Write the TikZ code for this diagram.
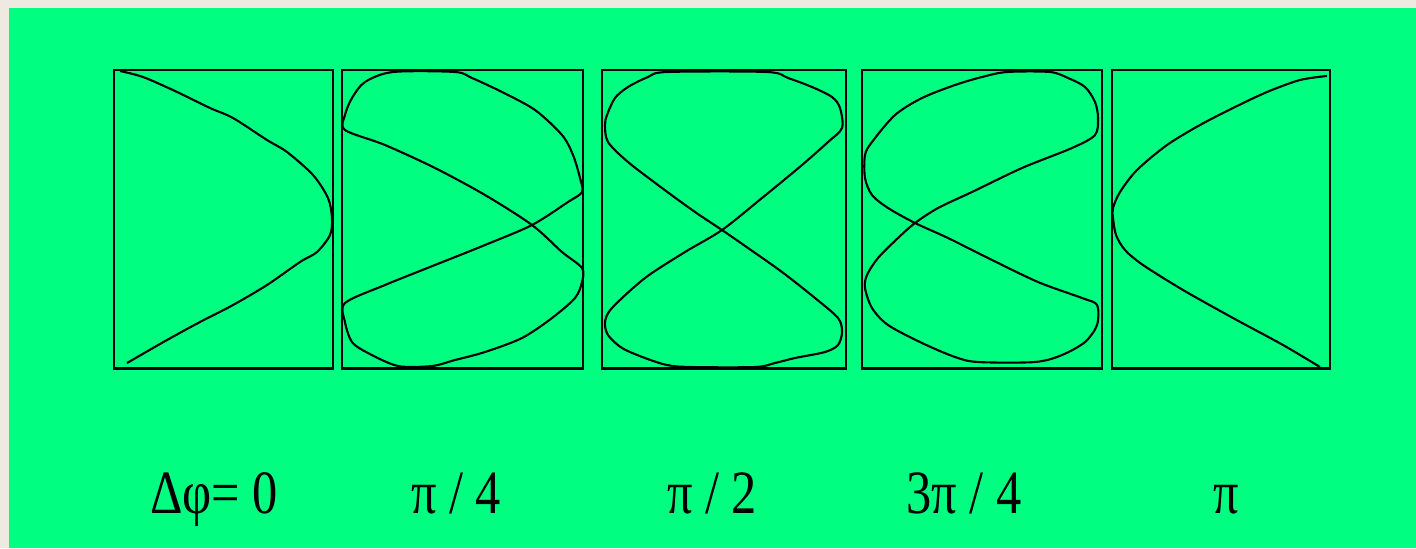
\documentclass[tikz,border=0pt]{standalone}
\usepackage{fontspec}
\newfontfamily\labelfont[FakeStretch=0.82]{Liberation Serif}
\definecolor{screen}{RGB}{0,255,128}
\definecolor{paper}{RGB}{238,234,225}
\tikzset{
  panel/.style={draw, line width=0.8pt, inner sep=0pt, minimum height=2.98cm},
  trace/.style={line width=0.6pt, line join=round},
  phase/.style={anchor=base, inner sep=0pt, font=\labelfont\fontsize{17.5}{20}\selectfont}
}
\begin{document}
\begin{tikzpicture}[x=0.01cm,y=-0.01cm]
\fill[paper] (0,0) rectangle (1416,548);
\fill[screen] (9,8) rectangle (1416,548);
\useasboundingbox (0,0) rectangle (1416,548);
% frames
\node[panel, minimum width=2.19cm] (p1) at (223.5,219) {};
\node[panel, minimum width=2.41cm] (p2) at (462.5,219) {};
\node[panel, minimum width=2.44cm] (p3) at (724,219) {};
\node[panel, minimum width=2.40cm] (p4) at (982,219) {};
\node[panel, minimum width=2.18cm] (p5) at (1221,219) {};
% figures
\draw[trace] plot[smooth] coordinates {(120,71) (143,77) (175,91) (210,108) (233,118) (267,140) (287,152) (313,175) (328,198) (332,218) (330,235) (317,252) (300,262) (267,285) (233,305) (200,322) (167,340) (127,363)};
\draw[trace] plot[smooth cycle] coordinates {(393,72) (455,72) (472,78) (502,92) (535,110) (562,135) (573,155) (580,178) (582,192) (568,202) (532,225) (485,245) (435,265) (385,285) (345,303) (345,322) (352,342) (368,353) (398,366) (432,366) (455,360) (485,352) (522,338) (552,318) (575,298) (582,282) (582,268) (562,252) (532,225) (485,195) (435,168) (385,145) (345,130) (345,115) (352,98) (365,82)};
\draw[trace] plot[smooth cycle] coordinates {(667,72) (767,72) (788,78) (812,87) (832,97) (840,108) (842,128) (828,142) (802,165) (762,198) (722,230) (685,252) (645,278) (612,308) (605,322) (608,335) (622,348) (645,358) (667,365) (690,367) (755,367) (775,363) (795,358) (825,352) (838,345) (842,332) (838,318) (815,298) (782,272) (748,248) (722,230) (695,212) (662,188) (628,162) (608,142) (605,125) (607,115) (615,98) (628,87) (648,77)};
\draw[trace] plot[smooth cycle] coordinates {(1007,72) (1050,72) (1068,78) (1085,87) (1095,102) (1098,118) (1095,135) (1072,148) (1022,168) (972,192) (938,208) (915,223) (898,238) (878,258) (867,275) (865,288) (872,308) (888,325) (922,343) (955,357) (978,362) (1035,362) (1062,355) (1085,342) (1097,325) (1097,305) (1082,298) (1038,282) (988,258) (948,238) (915,223) (888,208) (872,195) (865,178) (865,155) (872,142) (895,115) (922,98) (955,85) (982,77)};
\draw[trace] plot[smooth] coordinates {(1327,76) (1300,80) (1267,92) (1233,108) (1200,125) (1167,145) (1137,170) (1120,192) (1113,208) (1113,218) (1116,235) (1125,250) (1143,265) (1183,290) (1233,318) (1283,345) (1320,367)};
% phase labels
\node[phase] (l1) at (214,513) {Δφ= 0};
\node[phase] (l2) at (456,513) {π / 4};
\node[phase] (l3) at (712,513) {π / 2};
\node[phase] (l4) at (964,513) {3π / 4};
\node[phase] (l5) at (1226,513) {π};
\end{tikzpicture}
\end{document}
